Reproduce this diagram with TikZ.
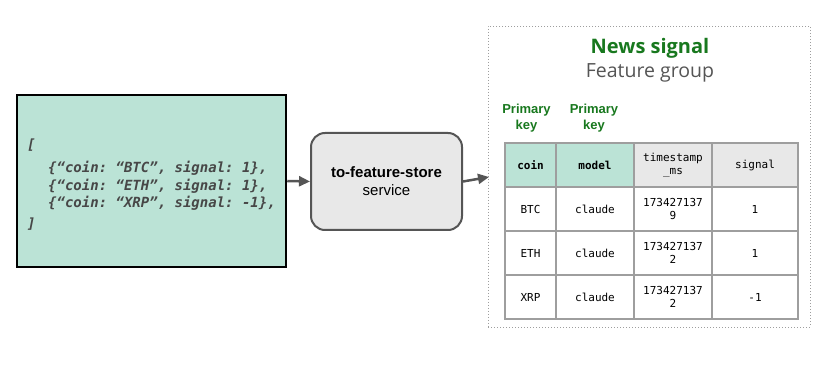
\documentclass[tikz,border=0pt]{standalone}
\usepackage{fontspec}
\setmainfont{Liberation Sans}
\setmonofont{DejaVu Sans Mono}
\newfontfamily\titlefont{Open Sans}
\usetikzlibrary{arrows.meta}

\definecolor{mint}{HTML}{BBE3D6}
\definecolor{boxgray}{HTML}{E8E8E8}
\definecolor{keygreen}{HTML}{18781E}
\definecolor{codegray}{HTML}{474747}
\definecolor{edgegray}{HTML}{555555}
\definecolor{gridgray}{HTML}{9E9E9E}

\tikzset{
  flow/.style={draw=edgegray, line width=2.5pt, -{Triangle[length=11pt,width=10pt]}},
  code/.style={font=\fontsize{14}{17.5}\selectfont\ttfamily\bfseries\itshape, text=codegray, inner sep=0pt},
  keylabel/.style={font=\fontsize{13}{16}\selectfont\bfseries, text=keygreen, align=center},
  cell/.style={draw=gridgray, line width=1.1pt, minimum height=44pt, inner sep=0pt, align=center,
    font=\fontsize{11}{13.5}\selectfont\ttfamily}
}

\begin{document}
\begin{tikzpicture}[x=1pt, y=-1pt]
\useasboundingbox (0,0) rectangle (814,371);

% incoming json
\node[draw=black, line width=2.5pt, fill=mint, minimum width=269pt, minimum height=172pt] (json) at (151.5,181) {};
\node[code, anchor=west] (open) at (27,145) {[};
\node[code, anchor=west, align=left] (rows) at (48,186) {\{“coin: “BTC”, signal: 1\},\\\{“coin: “ETH”, signal: 1\},\\\{“coin: “XRP”, signal: -1\},};
\node[code, anchor=west] (close) at (27,224) {]};

% service
\node[draw=edgegray, line width=2pt, fill=boxgray, rounded corners=14pt, minimum width=151pt, minimum height=97pt,
  align=center, font=\fontsize{15}{18}\selectfont] (service) at (386.5,181.5) {\textbf{to-feature-store}\\service};

% feature group
\node[draw=gridgray, line width=0.8pt, dash pattern=on 1pt off 2pt, minimum width=322pt, minimum height=301pt] (group) at (649,176.5) {};
\coordinate (groupin) at (489,177);
\node[font=\titlefont\fontsize{20}{24}\selectfont\bfseries, text=keygreen] (title) at (650,48) {News signal};
\node[font=\titlefont\fontsize{19.5}{24}\selectfont, text=edgegray] (subtitle) at (650,73) {Feature group};
\node[keylabel] (key1) at (526.5,118) {Primary\\key};
\node[keylabel] (key2) at (594,118) {Primary\\key};

% table
\node[cell, fill=mint, minimum width=51pt, font=\fontsize{11}{13.5}\selectfont\ttfamily\bfseries] (coin) at (530.5,165) {coin};
\node[cell, fill=mint, minimum width=78pt, font=\fontsize{11}{13.5}\selectfont\ttfamily\bfseries] (model) at (595,165) {model};
\node[cell, fill=boxgray, minimum width=78pt] (ts) at (673,165) {timestamp\\\_ms};
\node[cell, fill=boxgray, minimum width=86pt] (signal) at (755,165) {signal};

\node[cell, minimum width=51pt] (c1) at (530.5,209) {BTC};
\node[cell, minimum width=78pt] (m1) at (595,209) {claude};
\node[cell, minimum width=78pt] (t1) at (673,209) {173427137\\9};
\node[cell, minimum width=86pt] (s1) at (755,209) {1};

\node[cell, minimum width=51pt] (c2) at (530.5,253) {ETH};
\node[cell, minimum width=78pt] (m2) at (595,253) {claude};
\node[cell, minimum width=78pt] (t2) at (673,253) {173427137\\2};
\node[cell, minimum width=86pt] (s2) at (755,253) {1};

\node[cell, minimum width=51pt] (c3) at (530.5,297) {XRP};
\node[cell, minimum width=78pt] (m3) at (595,297) {claude};
\node[cell, minimum width=78pt] (t3) at (673,297) {173427137\\2};
\node[cell, minimum width=86pt] (s3) at (755,297) {-1};

\path[flow] (json.east) -- (service.west);
\path[flow] (service.east) -- (groupin);
\end{tikzpicture}
\end{document}
